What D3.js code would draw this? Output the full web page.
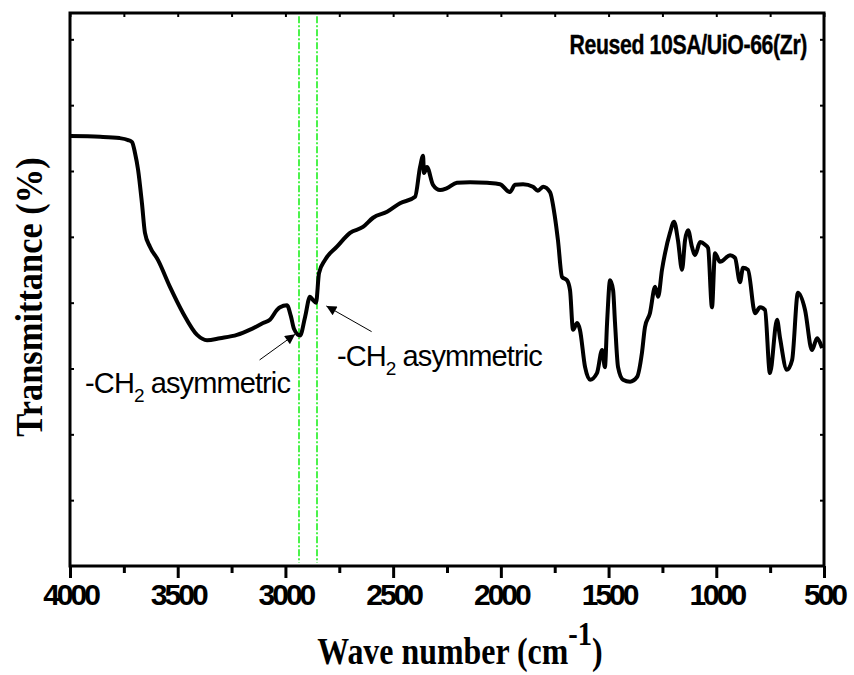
<!DOCTYPE html>
<html lang="en">
<head>
  <meta charset="UTF-8">
  <title>FTIR - Reused 10SA/UiO-66(Zr)</title>
  <style>
    body { margin: 0; background: #fff; }
    .frame { fill: none; stroke: #000; stroke-width: 3; }
    .spectrum { fill: none; stroke: #000; stroke-width: 4; stroke-linejoin: round; }
    .guide { stroke: #00ee00; stroke-width: 1.4; stroke-dasharray: 7,2,2,2; }
    .tick line { stroke: #000; stroke-width: 3; }
    .arrow { stroke: #000; stroke-width: 1; }
  </style>
</head>
<body>
  <div id="chart"></div>
  <script src="https://cdn.jsdelivr.net/npm/d3@7"></script>
  <script>
    // wavenumber (cm-1)
    var waves = [4000, 3860, 3770, 3730, 3712, 3698, 3684, 3666, 3652, 3629, 3592, 3536, 3475, 3410, 3364, 3304, 3225, 3164, 3104, 3072,
      3039, 3025, 2993, 2975, 2960, 2932, 2909, 2886, 2872, 2858, 2844, 2816, 2761, 2700, 2640, 2593, 2528, 2468, 2398, 2375,
      2361, 2357, 2343, 2315, 2282, 2250, 2204, 2143, 2064, 2004, 1958, 1934, 1897, 1851, 1828, 1804, 1772, 1749, 1735, 1716,
      1693, 1679, 1665, 1646, 1633, 1609, 1586, 1554, 1530, 1517, 1507, 1493, 1479, 1470, 1456, 1433, 1400, 1368, 1345, 1331,
      1308, 1284, 1270, 1252, 1238, 1215, 1196, 1178, 1159, 1145, 1131, 1113, 1099, 1075, 1052, 1038, 1020, 1006, 983, 936,
      913, 890, 876, 853, 820, 797, 774, 751, 718, 704, 672, 648, 621, 588, 556, 532, 518, 509];
    // transmittance (arbitrary units)
    var trans = [65.3, 65.2, 65.0, 64.7, 64.4, 62.7, 60.2, 55.1, 50.6, 48.5, 46.5, 42.4, 38.4, 35.1, 34.3, 34.6, 35.1, 35.9, 36.9, 37.4,
      38.9, 39.3, 39.6, 38.0, 36.0, 35.0, 37.8, 40.9, 40.4, 40.0, 44.5, 46.5, 48.5, 50.6, 51.5, 52.9, 53.8, 55.1, 56.1, 60.6,
      62.3, 59.7, 60.6, 57.9, 57.1, 57.4, 58.2, 58.3, 58.2, 58.0, 56.8, 57.9, 58.0, 57.6, 57.0, 57.6, 56.8, 53.0, 49.5, 43.9,
      43.4, 41.9, 35.9, 36.9, 35.9, 30.2, 28.3, 29.3, 32.8, 30.2, 36.9, 43.4, 41.9, 36.9, 30.2, 28.3, 28.0, 28.7, 32.4, 36.3,
      38.4, 42.4, 40.9, 45.0, 47.5, 50.6, 52.3, 49.5, 45.0, 49.5, 51.0, 48.5, 47.2, 49.2, 48.8, 48.3, 39.3, 47.5, 46.2, 47.2,
      46.8, 43.1, 45.3, 45.0, 38.4, 39.3, 38.9, 29.3, 37.4, 34.6, 29.8, 31.3, 41.5, 38.9, 32.8, 34.6, 33.9, 33.1];

    var xTicks = [4000, 3500, 3000, 2500, 2000, 1500, 1000, 500];
    var xMinor = [3750, 3250, 2750, 2250, 1750, 1250, 750];
    var yTicks = [10, 20, 30, 40, 50, 60, 70, 80];
    var guideWaves = [2935, 2855];
    var titleText = 'Reused 10SA/UiO-66(Zr)';

    var W = 854, H = 675;
    var margin = { top: 13, right: 30, bottom: 109, left: 70 };

    var svg = d3.select('#chart').append('svg')
      .attr('width', W).attr('height', H)
      .style('font-family', 'Liberation Sans, Arial, sans-serif');

    var x = d3.scaleLinear().domain([4000, 500]).range([margin.left, W - margin.right]);
    var y = d3.scaleLinear().domain([0, 84]).range([H - margin.bottom, margin.top]);

    var data = waves.map(function (w, i) { return { w: w, t: trans[i] }; });

    // green dash-dot guide lines
    svg.append('g').selectAll('line')
      .data(guideWaves)
      .enter().append('line')
      .attr('class', 'guide')
      .attr('x1', d => Math.round(x(d))).attr('x2', d => Math.round(x(d)))
      .attr('y1', y(83.5)).attr('y2', y(0.5));

    // spectrum
    var line = d3.line()
      .x(d => x(d.w))
      .y(d => y(d.t))
      .curve(d3.curveMonotoneX);
    svg.append('path').datum(data).attr('class', 'spectrum').attr('d', line);

    // bottom axis: labels + major ticks outward
    var bottomAxis = svg.append('g')
      .attr('transform', 'translate(0,' + y(0) + ')')
      .call(d3.axisBottom(x).tickValues(xTicks).tickSize(12).tickSizeOuter(0).tickPadding(6).tickFormat(d3.format('d')));
    bottomAxis.select('.domain').remove();
    bottomAxis.selectAll('text')
      .style('font-family', 'Liberation Sans, Arial, sans-serif')
      .style('font-weight', 'bold')
      .style('font-size', '30px')
      .style('letter-spacing', '-3px')
      .attr('fill', '#000');
    var bottomMinor = svg.append('g')
      .attr('transform', 'translate(0,' + y(0) + ')')
      .call(d3.axisBottom(x).tickValues(xMinor).tickSize(7).tickFormat(''));
    bottomMinor.select('.domain').remove();

    // top axis: ticks inward every 250
    var topAxis = svg.append('g')
      .attr('transform', 'translate(0,' + y(84) + ')')
      .call(d3.axisBottom(x).tickValues(xTicks.concat(xMinor)).tickSize(4).tickFormat(''));
    topAxis.select('.domain').remove();
    topAxis.selectAll('line').style('stroke-width', 2);

    // left / right ticks inward, no labels
    var leftAxis = svg.append('g')
      .attr('transform', 'translate(' + x(4000) + ',0)')
      .call(d3.axisRight(y).tickValues(yTicks).tickSize(4).tickFormat(''));
    leftAxis.select('.domain').remove();
    leftAxis.selectAll('line').style('stroke-width', 2);
    var rightAxis = svg.append('g')
      .attr('transform', 'translate(' + x(500) + ',0)')
      .call(d3.axisLeft(y).tickValues(yTicks).tickSize(4).tickFormat(''));
    rightAxis.select('.domain').remove();
    rightAxis.selectAll('line').style('stroke-width', 2);

    // frame
    svg.append('rect').attr('class', 'frame')
      .attr('x', x(4000)).attr('y', y(84))
      .attr('width', x(500) - x(4000)).attr('height', y(0) - y(84));

    // title
    svg.append('text')
      .attr('transform', 'translate(807,54) scale(0.76,1)')
      .attr('text-anchor', 'end')
      .style('font-weight', 'bold')
      .style('font-size', '28px')
      .style('letter-spacing', '-0.5px')
      .style('stroke', '#000').style('stroke-width', 0.4)
      .text(titleText);

    // annotations
    var defs = svg.append('defs');
    defs.append('marker').attr('id', 'head')
      .attr('viewBox', '0 0 10 10').attr('refX', 10).attr('refY', 5)
      .attr('markerWidth', 14).attr('markerHeight', 10).attr('markerUnits', 'userSpaceOnUse')
      .attr('orient', 'auto')
      .append('path').attr('d', 'M0,0 L10,5 L0,10 z').attr('fill', '#000');

    var notes = [
      { from: [3120, 31.3], to: [2955, 35.2], label: [3930, 26.3] },
      { from: [2600, 35.6], to: [2810, 39.5], label: [2761, 30.4] }
    ];
    notes.forEach(function (n) {
      svg.append('line').attr('class', 'arrow')
        .attr('x1', x(n.from[0])).attr('y1', y(n.from[1]))
        .attr('x2', x(n.to[0])).attr('y2', y(n.to[1]))
        .attr('marker-end', 'url(#head)');
      var t = svg.append('text')
        .attr('x', x(n.label[0])).attr('y', y(n.label[1]))
        .style('font-size', '29px')
        .style('letter-spacing', '-0.9px');
      t.append('tspan').text('-CH');
      t.append('tspan').attr('dy', 9).style('font-size', '19px').text('2');
      t.append('tspan').attr('dy', -9).text(' asymmetric');
    });

    // axis titles
    var xt = svg.append('text')
      .attr('transform', 'translate(460,664) scale(0.84,1)')
      .attr('text-anchor', 'middle')
      .style('font-family', 'Liberation Serif, Times New Roman, serif')
      .style('font-weight', 'bold')
      .style('font-size', '38px');
    xt.append('tspan').text('Wave number (cm');
    xt.append('tspan').attr('dy', -19).style('font-size', '34px').text('-1');
    xt.append('tspan').attr('dy', 19).text(')');

    svg.append('text')
      .attr('transform', 'translate(42,297) rotate(-90) scale(0.93,1)')
      .attr('text-anchor', 'middle')
      .style('font-family', 'Liberation Serif, Times New Roman, serif')
      .style('font-weight', 'bold')
      .style('font-size', '37px')
      .text('Transmittance (%)');
  </script>
</body>
</html>
